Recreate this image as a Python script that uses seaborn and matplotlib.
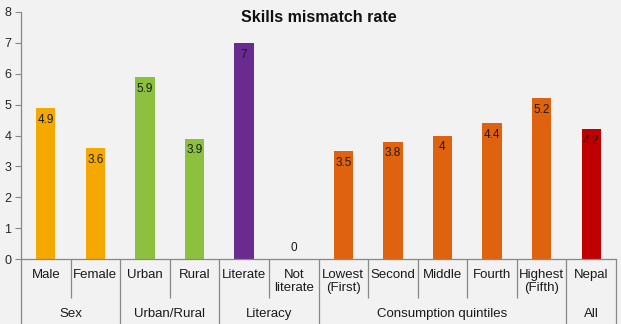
import matplotlib
matplotlib.use("Agg")
import matplotlib.pyplot as plt
import matplotlib.transforms as mtransforms
import seaborn as sns
import pandas as pd

categories = ["Male", "Female", "Urban", "Rural", "Literate", "Not\nliterate",
              "Lowest\n(First)", "Second", "Middle", "Fourth", "Highest\n(Fifth)", "Nepal"]
values = [4.9, 3.6, 5.9, 3.9, 7, 0, 3.5, 3.8, 4, 4.4, 5.2, 4.2]
value_labels = ["4.9", "3.6", "5.9", "3.9", "7", "0", "3.5", "3.8", "4", "4.4", "5.2", "4.2"]
groups = ["Sex", "Sex", "Urban/Rural", "Urban/Rural", "Literacy", "Literacy",
          "Consumption quintiles", "Consumption quintiles", "Consumption quintiles",
          "Consumption quintiles", "Consumption quintiles", "All"]
group_colors = {"Sex": "#F5A800", "Urban/Rural": "#8CC03F", "Literacy": "#6A2B91",
                "Consumption quintiles": "#DF620E", "All": "#C00000"}
y_ticks = [0, 1, 2, 3, 4, 5, 6, 7, 8]

sns.set_style("white")
plt.rcParams["font.family"] = ["Liberation Sans", "DejaVu Sans"]

bg = "#F2F2F2"
W, H = 621, 324
fig = plt.figure(figsize=(W / 100, H / 100), dpi=100, facecolor=bg)
ax = fig.add_axes([21 / W, (H - 259) / H, (616 - 21) / W, (259 - 12) / H], facecolor=bg)

df = pd.DataFrame({"cat": categories, "val": values, "grp": groups})
sns.barplot(data=df, x="cat", y="val", hue="cat",
            palette=[group_colors[g] for g in groups],
            legend=False, width=0.39, ax=ax, saturation=1, linewidth=0)

ax.set_ylim(0, 8)
ax.set_xlim(-0.5, len(categories) - 0.5)
ax.set_yticks(y_ticks)
ax.tick_params(axis="y", length=4, width=0.8, color="#888888", labelsize=9, pad=3, left=True)
ax.set_xticks([])
ax.set_xlabel("")
ax.set_ylabel("")
for side in ["top", "right"]:
    ax.spines[side].set_visible(False)
for side in ["left", "bottom"]:
    ax.spines[side].set_color("#888888")
    ax.spines[side].set_linewidth(0.9)

# Value labels inside the top of each bar
for i, (v, lab) in enumerate(zip(values, value_labels)):
    off = -8.5 if v > 0 else 8
    ax.annotate(lab, (i, v), xytext=(0, off), textcoords="offset points",
                ha="center", va="center", fontsize=8.5, color="#1a1a1a")

ah = 259 - 12
def fy(px):
    return -(px - 259) / ah

ax.text(0.5, fy(17), "Skills mismatch rate", transform=ax.transAxes,
        ha="center", va="center", fontsize=11.5, fontweight="bold", color="#111111")

# Two-level category axis
trans = mtransforms.blended_transform_factory(ax.transData, ax.transAxes)

for i, c in enumerate(categories):
    ax.text(i, fy(269), c, transform=trans, ha="center", va="top",
            fontsize=9.5, linespacing=1.1, color="#1a1a1a")

# group spans
spans = []
start = 0
for i in range(1, len(groups) + 1):
    if i == len(groups) or groups[i] != groups[start]:
        spans.append((groups[start], start, i - 1))
        start = i

boundaries = set()
for g, a, b in spans:
    boundaries.add(a - 0.5)
    boundaries.add(b + 0.5)
    ax.text((a + b) / 2, fy(314), g, transform=trans, ha="center", va="center",
            fontsize=9.5, color="#1a1a1a")

for k in range(len(categories) + 1):
    x = k - 0.5
    bottom = fy(324) if x in boundaries else fy(298)
    ax.plot([x, x], [0, bottom], transform=trans, color="#888888", lw=0.9,
            clip_on=False, solid_capstyle="butt")

fig.savefig("out.png", dpi=100, facecolor=bg)
